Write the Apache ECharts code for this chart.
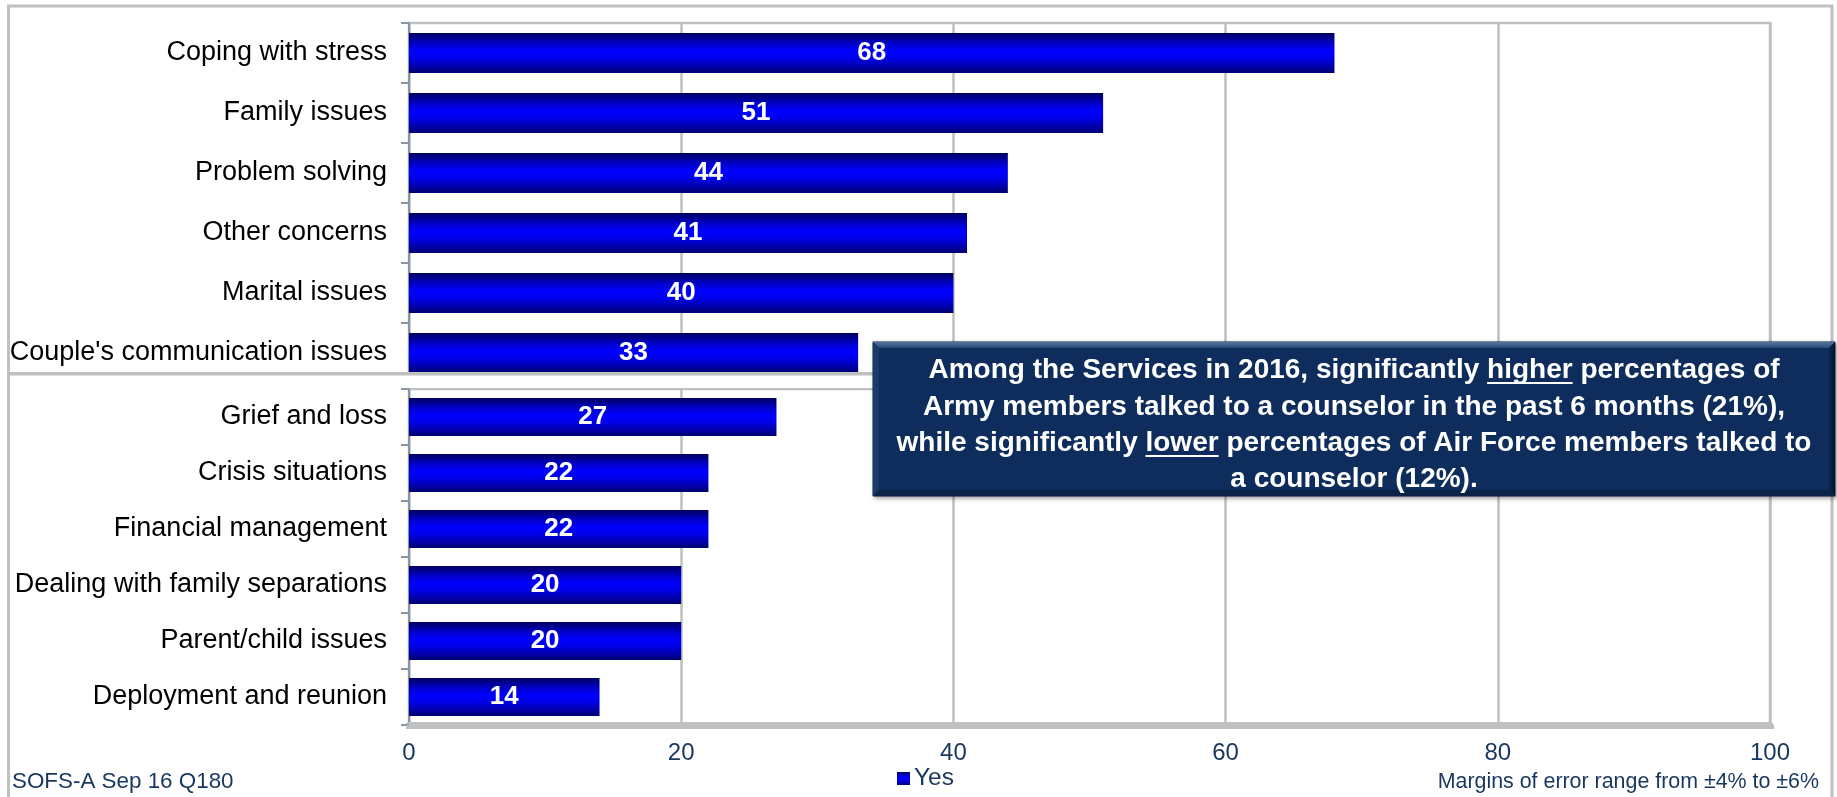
<!DOCTYPE html>
<html>
<head>
<meta charset="utf-8">
<title>Counseling topics</title>
<script src="https://cdn.jsdelivr.net/npm/echarts@6/dist/echarts.min.js"></script>
<style>
  html, body { margin: 0; padding: 0; background: #ffffff; }
  #chart { width: 1837px; height: 797px; }
</style>
</head>
<body>
<div id="chart"></div>
<script>
// Topics shown in the upper panel (percent answering "Yes")
const topCategories = ['Coping with stress', 'Family issues', 'Problem solving', 'Other concerns', 'Marital issues', "Couple's communication issues"];
const topValues = [68, 51, 44, 41, 40, 33];

// Topics shown in the lower panel
const bottomCategories = ['Grief and loss', 'Crisis situations', 'Financial management', 'Dealing with family separations', 'Parent/child issues', 'Deployment and reunion'];
const bottomValues = [27, 22, 22, 20, 20, 14];

// Percent scale
const axisMin = 0;
const axisMax = 100;
const axisStep = 20;

const seriesName = 'Yes';
const sourceNote = 'SOFS-A Sep 16 Q180';
const marginNote = 'Margins of error range from \u00b14% to \u00b16%';
const calloutLines = [
  'Among the Services in 2016, significantly higher percentages of',
  'Army members talked to a counselor in the past 6 months (21%),',
  'while significantly lower percentages of Air Force members talked to',
  'a counselor (12%).'
];
// [line index, word] pairs that are underlined in the callout
const underlined = [[0, 'higher'], [2, 'lower']];

const FONT = '"Liberation Sans", Arial, Helvetica, sans-serif';
const NAVY = '#17375e';
const GRID_GRAY = '#c0c0c0';
const AXIS_GRAY = '#8a96a6';

const chart = echarts.init(document.getElementById('chart'), null, { renderer: 'canvas' });

const barFill = new echarts.graphic.LinearGradient(0, 0, 0, 1, [
  { offset: 0, color: '#00005e' },
  { offset: 0.25, color: '#0000c4' },
  { offset: 0.45, color: '#0000ff' },
  { offset: 0.6, color: '#0000f2' },
  { offset: 0.85, color: '#0000a6' },
  { offset: 1, color: '#000070' }
]);

const plotLeft = 409;
const plotWidth = 1361;

function valueAxis(gridIndex, showLabels) {
  return {
    type: 'value',
    gridIndex: gridIndex,
    min: axisMin,
    max: axisMax,
    interval: axisStep,
    splitLine: { show: true, lineStyle: { color: GRID_GRAY, width: 2.5 } },
    axisLine: showLabels
      ? { show: true, lineStyle: { color: GRID_GRAY, width: 7 } }
      : { show: false },
    axisTick: showLabels
      ? { show: true, length: 4, lineStyle: { color: GRID_GRAY, width: 7 } }
      : { show: false },
    axisLabel: showLabels
      ? { show: true, color: NAVY, fontSize: 24, fontFamily: FONT, margin: 16 }
      : { show: false }
  };
}

function categoryAxis(gridIndex, cats) {
  return {
    type: 'category',
    gridIndex: gridIndex,
    data: cats,
    inverse: true,
    axisLine: { show: true, lineStyle: { color: AXIS_GRAY, width: 2 } },
    axisTick: { show: true, length: 8, interval: 0, lineStyle: { color: AXIS_GRAY, width: 2 } },
    axisLabel: { color: '#000000', fontSize: 27, fontFamily: FONT, margin: 22, interval: 0 },
    splitLine: { show: false }
  };
}

function barSeries(index, values, gap) {
  return {
    name: seriesName,
    type: 'bar',
    xAxisIndex: index,
    yAxisIndex: index,
    data: values,
    barCategoryGap: gap,
    itemStyle: { color: barFill },
    label: {
      show: true,
      position: 'inside',
      color: '#ffffff',
      fontWeight: 'bold',
      fontSize: 26,
      fontFamily: FONT
    },
    emphasis: { disabled: true },
    silent: true,
    animation: false
  };
}

// Callout geometry
const box = { x: 873, y: 342, w: 962, h: 154 };
const boxCx = box.x + box.w / 2;
const lineYs = [370, 407, 443, 479];
const calloutFont = 'bold 28px ' + FONT;

const measureCtx = document.createElement('canvas').getContext('2d');
measureCtx.font = calloutFont;

const calloutGraphics = [];
// Box body and bevelled edges
calloutGraphics.push({
  type: 'rect', z: 30, silent: true,
  shape: { x: box.x, y: box.y, width: box.w, height: box.h },
  style: { fill: '#0e2d5c', stroke: '#081d3d', lineWidth: 1, shadowBlur: 4, shadowColor: 'rgba(0,0,0,0.35)', shadowOffsetX: 2, shadowOffsetY: 2 }
});
const bv = 6;
calloutGraphics.push({
  type: 'polygon', z: 31, silent: true,
  shape: { points: [[box.x, box.y], [box.x + box.w, box.y], [box.x + box.w - bv, box.y + bv], [box.x + bv, box.y + bv]] },
  style: { fill: new echarts.graphic.LinearGradient(0, 0, 0, 1, [{ offset: 0, color: '#56759c' }, { offset: 1, color: '#274a78' }]) }
});
calloutGraphics.push({
  type: 'polygon', z: 31, silent: true,
  shape: { points: [[box.x + box.w, box.y], [box.x + box.w, box.y + box.h], [box.x + box.w - bv, box.y + box.h - bv], [box.x + box.w - bv, box.y + bv]] },
  style: { fill: new echarts.graphic.LinearGradient(0, 0, 1, 0, [{ offset: 0, color: '#0b2450' }, { offset: 1, color: '#051634' }]) }
});
calloutGraphics.push({
  type: 'polygon', z: 31, silent: true,
  shape: { points: [[box.x, box.y + box.h], [box.x + box.w, box.y + box.h], [box.x + box.w - bv, box.y + box.h - bv], [box.x + bv, box.y + box.h - bv]] },
  style: { fill: '#0a2348' }
});
calloutGraphics.push({
  type: 'polygon', z: 31, silent: true,
  shape: { points: [[box.x, box.y], [box.x + bv, box.y + bv], [box.x + bv, box.y + box.h - bv], [box.x, box.y + box.h]] },
  style: { fill: '#1a3a67' }
});
calloutLines.forEach(function (txt, i) {
  calloutGraphics.push({
    type: 'text', z: 32, silent: true,
    style: {
      x: boxCx, y: lineYs[i], text: txt,
      font: calloutFont, fill: '#ffffff',
      align: 'center', verticalAlign: 'middle'
    }
  });
});
underlined.forEach(function (u) {
  const line = calloutLines[u[0]];
  const idx = line.indexOf(u[1]);
  const full = measureCtx.measureText(line).width;
  const pre = measureCtx.measureText(line.slice(0, idx)).width;
  const w = measureCtx.measureText(u[1]).width;
  const left = boxCx - full / 2 + pre;
  const y = lineYs[u[0]] + 13;
  calloutGraphics.push({
    type: 'line', z: 32, silent: true,
    shape: { x1: left, y1: y, x2: left + w, y2: y },
    style: { stroke: '#ffffff', lineWidth: 2 }
  });
});

const option = {
  backgroundColor: '#ffffff',
  animation: false,
  grid: [
    { left: plotLeft, top: 23, width: plotWidth, height: 360, show: true, borderColor: GRID_GRAY, borderWidth: 2.5, containLabel: false },
    { left: plotLeft, top: 389, width: plotWidth, height: 336, show: true, borderColor: GRID_GRAY, borderWidth: 2.5, containLabel: false }
  ],
  xAxis: [valueAxis(0, false), valueAxis(1, true)],
  yAxis: [categoryAxis(0, topCategories), categoryAxis(1, bottomCategories)],
  legend: {
    data: [seriesName],
    left: 897,
    top: 766,
    padding: 0,
    icon: 'rect',
    itemWidth: 13,
    itemHeight: 13,
    itemGap: 10,
    textStyle: { color: NAVY, fontSize: 24.5, fontFamily: FONT, padding: [0, 0, 0, -1] },
    selectedMode: false
  },
  series: [
    barSeries(0, topValues, '33.3%'),
    barSeries(1, bottomValues, '32%')
  ],
  graphic: [
    // outer frame
    {
      type: 'rect', z: 5, silent: true,
      shape: { x: 8.5, y: 6, width: 1823.5, height: 800 },
      style: { fill: 'none', stroke: GRID_GRAY, lineWidth: 3 }
    },
    // gap between the two panels
    {
      type: 'rect', z: 10, silent: true,
      shape: { x: 10, y: 375, width: 1820, height: 13 },
      style: { fill: '#ffffff' }
    },
    // divider line between the panels
    {
      type: 'line', z: 11, silent: true,
      shape: { x1: 9, y1: 373.7, x2: 1831, y2: 373.7 },
      style: { stroke: GRID_GRAY, lineWidth: 3.5 }
    },
    {
      type: 'text', z: 12, silent: true,
      style: { x: 12, y: 782, text: sourceNote, font: '22.4px ' + FONT, fill: NAVY, align: 'left', verticalAlign: 'middle' }
    },
    {
      type: 'text', z: 12, silent: true,
      style: { x: 1819, y: 782, text: marginNote, font: '21.4px ' + FONT, fill: NAVY, align: 'right', verticalAlign: 'middle' }
    }
  ].concat(calloutGraphics)
};

chart.setOption(option);
</script>
</body>
</html>
